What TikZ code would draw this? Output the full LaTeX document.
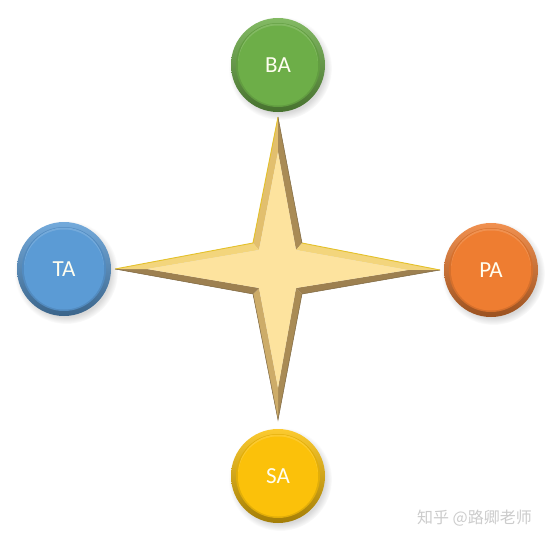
\documentclass[tikz,border=0pt]{standalone}
\usepackage{fontspec}
\setmainfont{Carlito}
\newfontfamily\cjk{Noto Sans CJK SC}
\usetikzlibrary{shadows}
\definecolor{cgreen}{HTML}{6DAE48}
\definecolor{cblue}{HTML}{5B9BD5}
\definecolor{corange}{HTML}{EE7D31}
\definecolor{cgold}{HTML}{FBC10A}
\definecolor{starface}{HTML}{FDE39E}
\definecolor{facetA}{HTML}{E2BF6E}
\definecolor{facetB}{HTML}{A98B55}
\definecolor{facetC}{HTML}{F3D57C}
\definecolor{facetD}{HTML}{9D8050}
\definecolor{facetE}{HTML}{CDAC69}
\definecolor{starline}{HTML}{E4C12A}
\tikzset{
  ball/.style={circle, minimum size=94pt, inner sep=0pt,
    top color=#1!85!white, bottom color=#1!65!black,
    circular drop shadow={shadow xshift=2pt, shadow yshift=-3pt, opacity=0.3, fill=black!50},
    text=white!94!yellow, font=\fontsize{23}{23}\selectfont,
    path picture={\fill[#1!90!black] (path picture bounding box.center) circle (42pt);
      \fill[#1!85!white] ([yshift=1.5pt]path picture bounding box.center) circle (40pt);
      \fill[#1] ([yshift=-0.5pt]path picture bounding box.center) circle (40pt);}},
  wmark/.style={text=black!20, font=\cjk\fontsize{16}{16}\selectfont, inner sep=0pt}
}
\begin{document}
\begin{tikzpicture}[x=1pt,y=-1pt]
\useasboundingbox (0,0) rectangle (545,541);
\fill[white] (0,0) rectangle (545,541);
% star coordinates
\coordinate (T) at (278,117);
\coordinate (UR) at (302,243);
\coordinate (R) at (440,270);
\coordinate (LR) at (302,294);
\coordinate (B) at (278,420);
\coordinate (LL) at (253,294);
\coordinate (L) at (115,269);
\coordinate (UL) at (253,243);
\coordinate (Ti) at (278,152);
\coordinate (URi) at (296,250);
\coordinate (Ri) at (408,270);
\coordinate (LRi) at (296,288);
\coordinate (Bi) at (278,388);
\coordinate (LLi) at (259,288);
\coordinate (Li) at (147,269);
\coordinate (ULi) at (259,250);
% shadow
\fill[black, opacity=0.12, shift={(3,4)}] (T)--(UR)--(R)--(LR)--(B)--(LL)--(L)--(UL)--cycle;
% facets
\fill[facetA] (UL)--(T)--(Ti)--(ULi)--cycle;
\fill[facetB] (T)--(UR)--(URi)--(Ti)--cycle;
\fill[facetC] (UR)--(R)--(Ri)--(URi)--cycle;
\fill[facetD] (R)--(LR)--(LRi)--(Ri)--cycle;
\fill[facetB] (LR)--(B)--(Bi)--(LRi)--cycle;
\fill[facetE] (B)--(LL)--(LLi)--(Bi)--cycle;
\fill[facetD] (LL)--(L)--(Li)--(LLi)--cycle;
\fill[facetC] (L)--(UL)--(ULi)--(Li)--cycle;
% face
\fill[starface] (Ti)--(URi)--(Ri)--(LRi)--(Bi)--(LLi)--(Li)--(ULi)--cycle;
% outline highlights
\draw[starline, line width=0.9pt, line join=miter] (L)--(UL)--(T);
\draw[starline, line width=0.9pt] (UR)--(R);
\draw[facetD!80!black, line width=0.5pt] (T)--(UR);
\draw[facetD!80!black, line width=0.5pt] (R)--(LR)--(B)--(LL)--(L);
% balls
\node[ball=cgreen] (BA) at (278,65) {BA};
\node[ball=cblue] (TA) at (64,269) {TA};
\node[ball=corange] (PA) at (491,270) {PA};
\node[ball=cgold] (SA) at (278,476) {SA};
% watermark
\node[wmark, anchor=east] (wm) at (532,518) {知乎 @路卿老师};
\end{tikzpicture}
\end{document}
